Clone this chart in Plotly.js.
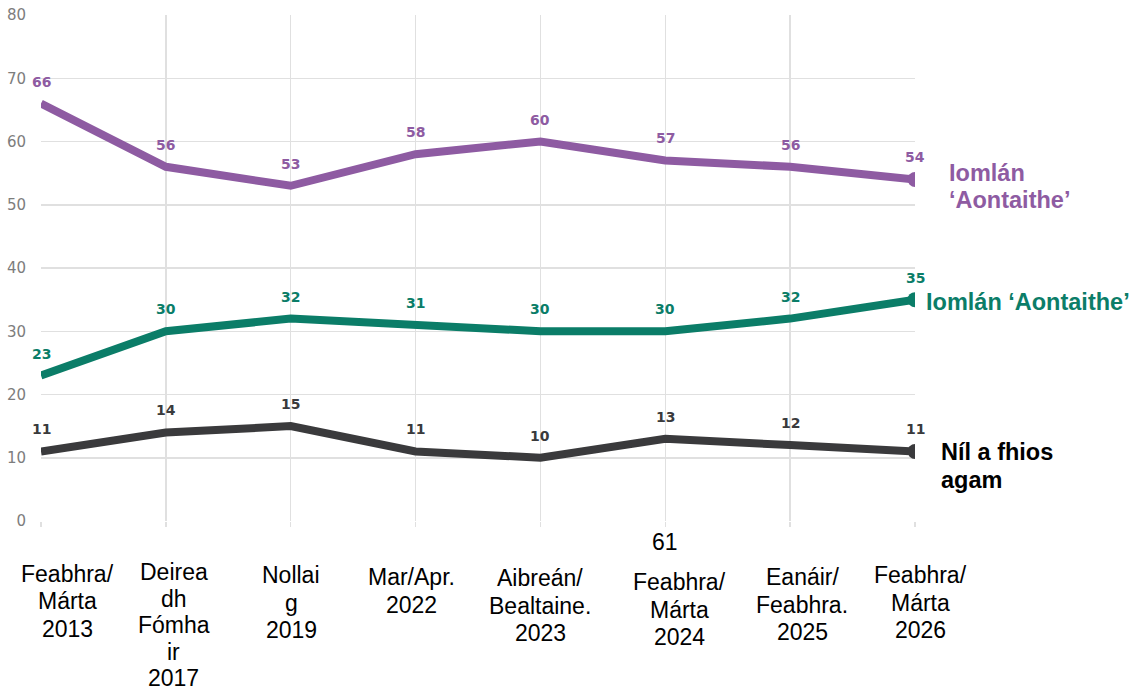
<!DOCTYPE html>
<html>
<head>
<meta charset="utf-8">
<script src="https://cdn.plot.ly/plotly-3.0.1.min.js"></script>
<style>html,body{margin:0;padding:0;background:#fff;}#chart{width:1133px;height:692px;}</style>
</head>
<body>
<div id="chart"></div>
<script>
// ---- data ----
const categories = [
  "Feabhra/<br>Márta<br>2013",
  "Deirea<br>dh<br>Fómha<br>ir<br>2017",
  "Nollai<br>g<br>2019",
  "Mar/Apr.<br>2022",
  "Aibreán/<br>Bealtaine.<br>2023",
  "Feabhra/<br>Márta<br>2024",
  "Eanáir/<br>Feabhra.<br>2025",
  "Feabhra/<br>Márta<br>2026"
];
const agreeTotal = [66, 56, 53, 58, 60, 57, 56, 54];
const disagreeTotal = [23, 30, 32, 31, 30, 30, 32, 35];
const dontKnow = [11, 14, 15, 11, 10, 13, 12, 11];
const seriesNames = ["Iomlán<br>‘Aontaithe’", "Iomlán ‘Aontaithe’", "Níl a fhios<br>agam"];
const strayLabel = "61";
const yTicks = [0, 10, 20, 30, 40, 50, 60, 70, 80];

// ---- styling / layout ----
const colors = ["#8e5ba2", "#0b7d68", "#3a3a3c"];
const series = [agreeTotal, disagreeTotal, dontKnow];
const xIdx = categories.map((_, i) => i);
const last = categories.length - 1;
const PLOT_BOTTOM = 521;      // pixel row of y = 0
const LABEL_FONT = "Liberation Sans, Arial, sans-serif";
const LINE_GAP = 27.5;

const traces = [];
series.forEach((vals, s) => {
  traces.push({
    x: xIdx, y: vals, type: "scatter", mode: "lines",
    line: {color: colors[s], width: 8}, hoverinfo: "skip", showlegend: false
  });
  traces.push({
    x: [last], y: [vals[last]], type: "scatter", mode: "markers",
    marker: {color: colors[s], size: 15}, hoverinfo: "skip", showlegend: false
  });
});

const annotations = [];
// value labels
series.forEach((vals, s) => {
  vals.forEach((v, i) => {
    annotations.push({
      x: i, y: v, xref: "x", yref: "y", text: "<b>" + v + "</b>", showarrow: false,
      yanchor: "middle", xanchor: "center", yshift: 22,
      font: {family: "DejaVu Sans, sans-serif", size: 14, color: colors[s]}
    });
  });
});

// series end labels (one annotation per line, to control line spacing)
const endLabelCfg = [
  {xshift: 32, yshift: 6.5, color: colors[0]},
  {xshift: 9, yshift: -2.5, color: colors[1]},
  {xshift: 24, yshift: -0.6, color: "#000000"}
];
series.forEach((vals, s) => {
  seriesNames[s].split("<br>").forEach((line, k) => {
    annotations.push({
      x: last, y: vals[last], xref: "x", yref: "y", text: "<b>" + line + "</b>",
      showarrow: false, xanchor: "left", yanchor: "middle", align: "left",
      xshift: endLabelCfg[s].xshift, yshift: endLabelCfg[s].yshift - k * LINE_GAP,
      font: {family: LABEL_FONT, size: 23.5, color: endLabelCfg[s].color}
    });
  });
});

// x category labels, one annotation per line, nudged like the original
const xLabelShift = [26, 8, 0.5, -4, 0, 14, 12, 5];
const xLabelFirstLineY = [573.5, 572, 575, 577, 578, 582, 577, 575];
const xLabelGap = [27.5, 26.5, 27.5, 27.5, 27.5, 27.5, 27.5, 27.5];
categories.forEach((c, i) => {
  c.split("<br>").forEach((line, k) => {
    annotations.push({
      x: i, y: 0, xref: "x", yref: "paper", text: line, showarrow: false,
      xanchor: "center", yanchor: "middle", align: "center",
      xshift: xLabelShift[i], yshift: -(xLabelFirstLineY[i] + k * xLabelGap[i] - PLOT_BOTTOM),
      font: {family: LABEL_FONT, size: 23, color: "#000"}
    });
  });
});
annotations.push({
  x: 5, y: 0, xref: "x", yref: "paper", text: strayLabel, showarrow: false,
  xanchor: "center", yanchor: "middle", yshift: -(542 - PLOT_BOTTOM),
  font: {family: LABEL_FONT, size: 23, color: "#000"}
});

const layout = {
  width: 1133, height: 692,
  margin: {l: 41, r: 218, t: 15, b: 171, pad: 0},
  paper_bgcolor: "#fff", plot_bgcolor: "#fff",
  xaxis: {
    range: [0, last], tickvals: xIdx, showticklabels: false,
    showgrid: true, gridcolor: "#e0e0e0", gridwidth: 1.5,
    zeroline: false, showline: false,
    ticks: "outside", ticklen: 5, tickcolor: "#e0e0e0", tickwidth: 1.5
  },
  yaxis: {
    range: [0, 80], tickvals: yTicks,
    showgrid: true, gridcolor: "#e0e0e0", gridwidth: 1.5,
    zeroline: false, showline: false,
    tickfont: {family: "DejaVu Sans, sans-serif", size: 15, color: "#7d7d7d"},
    ticklabelstandoff: 14
  },
  annotations: annotations
};

Plotly.newPlot("chart", traces, layout, {staticPlot: true});
</script>
</body>
</html>
